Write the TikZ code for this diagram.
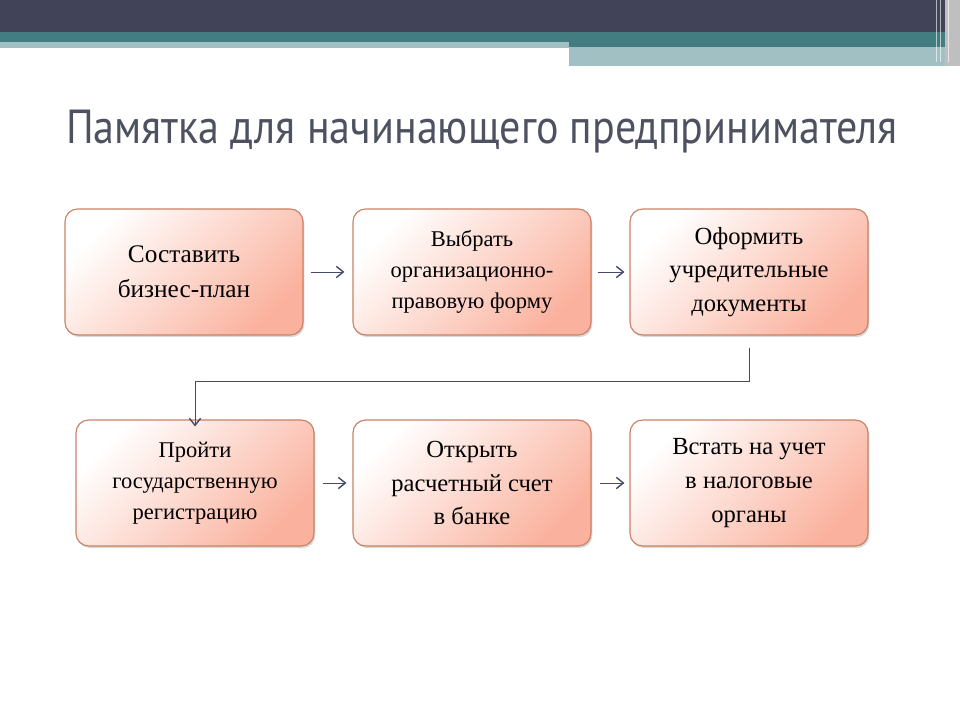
\documentclass[tikz,border=0pt]{standalone}
\usepackage{fontspec}
\setmainfont{Liberation Serif}
\newfontfamily\titlefont{PT Sans}
\usetikzlibrary{positioning,arrows.meta,shadows}
\definecolor{barDark}{RGB}{65,68,89}
\definecolor{barTeal}{RGB}{67,125,129}
\definecolor{barLight}{RGB}{161,192,195}
\definecolor{boxSalmon}{RGB}{250,178,158}
\definecolor{boxEdge}{RGB}{200,130,100}
\definecolor{arrowSlate}{RGB}{70,75,110}
\definecolor{titleGrey}{RGB}{78,82,96}
\tikzset{
  stepbox/.style={rectangle,rounded corners=9pt,draw=boxEdge,line width=0.8pt,
    left color=white,right color=boxSalmon,shading angle=45,
    minimum width=238\pxu,minimum height=126\pxu,align=center,
    font=\fontsize{16}{22}\selectfont,drop shadow={opacity=0.3,shadow xshift=1pt,shadow yshift=-1.5pt}},
  flow/.style={draw=arrowSlate,line width=0.7pt,-{Straight Barb[length=5pt,width=8pt,line width=1pt]}}
}
\newcommand{\pxu}{*0.025cm}
\begin{document}
\begin{tikzpicture}[x=0.025cm,y=-0.025cm]
\useasboundingbox (0,0) rectangle (960,720);

% Top bars
\fill[barDark] (0,0) rectangle (960,32);
\fill[barTeal] (0,32) rectangle (960,42);
\fill[barTeal] (569,42) rectangle (945,47);
\fill[barLight] (0,42) rectangle (569,48);
\fill[barLight] (569,47) rectangle (945,66);
\fill[gray!50] (945,0) rectangle (960,66);
\foreach \x in {936,940,948}
  \draw[white,opacity=0.6] (\x,0) -- (\x,62);

% Title
\node[font=\titlefont\fontsize{34}{40}\selectfont,text=titleGrey,xscale=0.88] (title) at (482,132) {Памятка для начинающего предпринимателя};

% Boxes
\node[stepbox,font=\fontsize{18}{25}\selectfont] (plan) at (184,272) {Составить\\бизнес-план};
\node[stepbox] (form) at (472,272) {Выбрать\\организационно-\\правовую форму};
\node[stepbox,font=\fontsize{17.5}{24}\selectfont] (docs) at (749,272) {Оформить\\учредительные\\документы};
\node[stepbox] (reg) at (195,483) {Пройти\\государственную\\регистрацию};
\node[stepbox,font=\fontsize{17.5}{24}\selectfont] (bank) at (472,483) {Открыть\\расчетный счет\\в банке};
\node[stepbox,font=\fontsize{17.5}{24}\selectfont] (tax) at (749,483) {Встать на учет\\в налоговые\\органы};

% Connectors
\draw[flow] ([xshift=7\pxu]plan.east) -- ([xshift=-8\pxu]form.west);
\draw[flow] ([xshift=6\pxu]form.east) -- ([xshift=-5\pxu]docs.west);
\draw[flow] ([yshift=-12\pxu]docs.south) |- (195,381) -- ([yshift=-7\pxu]reg.north);
\draw[flow] ([xshift=8\pxu]reg.east) -- ([xshift=-6\pxu]bank.west);
\draw[flow] ([xshift=8\pxu]bank.east) -- ([xshift=-5\pxu]tax.west);

\end{tikzpicture}
\end{document}
